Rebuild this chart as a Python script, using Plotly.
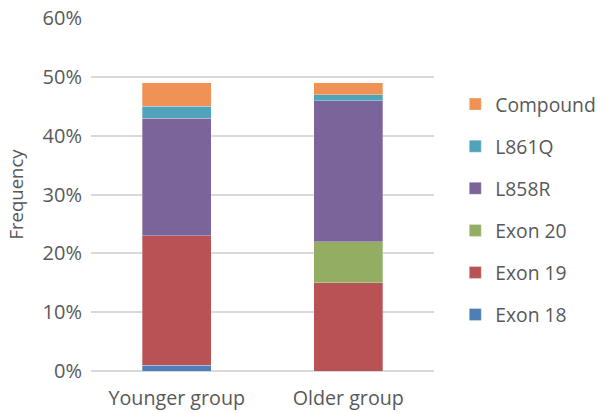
import plotly.graph_objects as go

categories = ["Younger group", "Older group"]
series_names = ["Exon 18", "Exon 19", "Exon 20", "L858R", "L861Q", "Compound"]
exon18 = [1, 0]
exon19 = [22, 15]
exon20 = [0, 7]
l858r = [20, 24]
l861q = [2, 1]
compound = [4, 2]
series_values = [exon18, exon19, exon20, l858r, l861q, compound]
colors = ["#4F7DB5", "#B85255", "#93AE63", "#7B6499", "#4FA4BC", "#F09155"]
y_ticks = [0, 10, 20, 30, 40, 50, 60]
y_tick_labels = ["0%", "10%", "20%", "30%", "40%", "50%", "60%"]

fig = go.Figure()
n = len(series_names)
for i, (name, vals, col) in enumerate(zip(series_names, series_values, colors)):
    fig.add_trace(go.Bar(
        x=categories, y=vals, name=name, legendgroup=name, legendrank=n - i,
        marker=dict(color=col, line=dict(width=0.6, color="rgba(255,255,255,0.5)")),
    ))

txt = "#595959"
fig.update_layout(
    barmode="stack",
    bargap=0.6,
    width=598, height=413,
    margin=dict(l=91, r=164, t=18, b=42, autoexpand=False),
    paper_bgcolor="white", plot_bgcolor="white",
    font=dict(family="Open Sans", size=19, color=txt),
    showlegend=True,
    legend=dict(
        traceorder="grouped", tracegroupgap=14,
        x=1.062, xanchor="left", y=0.81, yanchor="top",
        font=dict(size=19.3, color=txt),
        itemwidth=30,
    ),
    xaxis=dict(
        showgrid=False, showline=False, ticks="",
        tickfont=dict(size=19.7, color=txt),
        ticklabelstandoff=13,
    ),
    yaxis=dict(
        range=[0, 60.05], tickvals=y_ticks, ticktext=y_tick_labels,
        showgrid=True, gridcolor="#D9D9D9", gridwidth=1.5,
        zeroline=True, zerolinecolor="#D9D9D9", zerolinewidth=1.5,
        tickfont=dict(size=20, color=txt),
        ticklabelstandoff=8,
        title=dict(text="Frequency", font=dict(size=18.5, color=txt), standoff=14),
    ),
)
fig.write_html("out.html")
